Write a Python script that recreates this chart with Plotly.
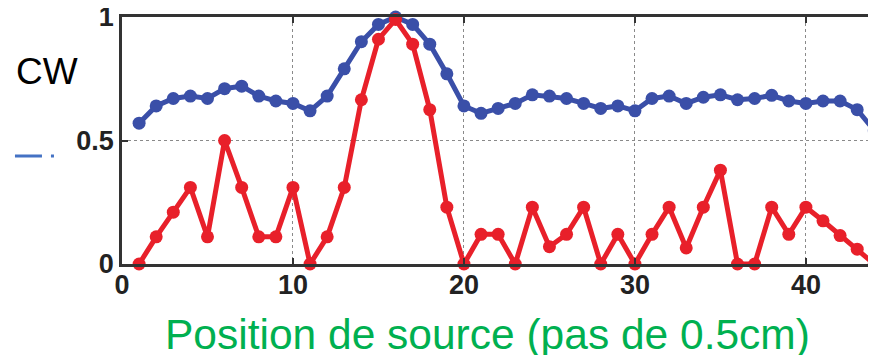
import plotly.graph_objects as go

# ---- data ----
positions = list(range(1, 45))
cw_blue = [0.57, 0.64, 0.67, 0.68, 0.67, 0.71, 0.72, 0.68, 0.66, 0.65,
           0.62, 0.68, 0.79, 0.90, 0.97, 1.00, 0.97, 0.89, 0.77, 0.64,
           0.61, 0.63, 0.65, 0.685, 0.68, 0.67, 0.65, 0.63, 0.64, 0.62,
           0.67, 0.68, 0.65, 0.675, 0.685, 0.665, 0.67, 0.683, 0.66, 0.65,
           0.66, 0.66, 0.625, 0.54]
red_series = [0.0, 0.11, 0.21, 0.31, 0.11, 0.50, 0.31, 0.11, 0.11, 0.31,
              0.0, 0.11, 0.31, 0.665, 0.91, 0.99, 0.89, 0.625, 0.23, 0.0,
              0.12, 0.12, 0.0, 0.23, 0.07, 0.12, 0.23, 0.0, 0.12, 0.0,
              0.12, 0.23, 0.065, 0.23, 0.38, 0.0, 0.0, 0.23, 0.12, 0.23,
              0.175, 0.115, 0.06, 0.0]
x_ticks = [0, 10, 20, 30, 40]
y_ticks = [0, 0.5, 1]
y_tick_labels = ["0", "0.5", "1"]

BLUE = "#3a4fa8"
RED = "#e8202a"

fig = go.Figure()
fig.add_trace(go.Scatter(
    x=positions, y=cw_blue, mode="lines+markers",
    line=dict(color=BLUE, width=5),
    marker=dict(color=BLUE, size=13),
    cliponaxis=False, showlegend=False))
fig.add_trace(go.Scatter(
    x=positions, y=red_series, mode="lines+markers",
    line=dict(color=RED, width=5),
    marker=dict(color=RED, size=13),
    cliponaxis=False, showlegend=False))

axis_common = dict(
    showline=True, linecolor="#333333", linewidth=2.5,
    ticks="inside", ticklen=6, tickwidth=2, tickcolor="#333333",
    showgrid=True, gridcolor="#8a8a8a", gridwidth=1, griddash="dot",
    zeroline=False, automargin=False, ticklabeloverflow="allow",
    tickfont=dict(family="Liberation Sans, Arial", size=27,
                  color="#222222", weight="bold"),
)

fig.update_xaxes(range=[0, 44.1], tickvals=x_ticks, mirror="ticks",
                 ticklabelstandoff=-5, **axis_common)
fig.update_yaxes(range=[0, 1], tickvals=y_ticks, ticktext=y_tick_labels,
                 **axis_common)

fig.add_annotation(text="CW", xref="paper", yref="paper",
                   x=-0.1, y=0.781, xanchor="center", yanchor="middle",
                   showarrow=False,
                   font=dict(family="Liberation Sans, Arial", size=37,
                             color="#000000"))
fig.add_annotation(text="Position de source (pas de 0.5cm)",
                   xref="paper", yref="paper", x=0.485, y=-0.287,
                   xanchor="center", yanchor="middle",
                   showarrow=False,
                   font=dict(family="Liberation Sans, Arial", size=42.5,
                             color="#00b050"))
fig.add_shape(type="line", xref="paper", yref="paper",
              x0=-0.1592, x1=-0.0902, y0=0.437, y1=0.437,
              line=dict(color="#4472c4", width=3,
                        dash="3px,10px,27px,9px,3px,200px"))

# page body has an 8px default margin; size the figure so the plot area
# lands at the reference position inside the 876x355 window
fig.update_layout(
    width=868, height=347,
    margin=dict(l=114, r=0, t=9, b=91, autoexpand=False),
    paper_bgcolor="white", plot_bgcolor="white",
)

fig.write_html("out.html")
